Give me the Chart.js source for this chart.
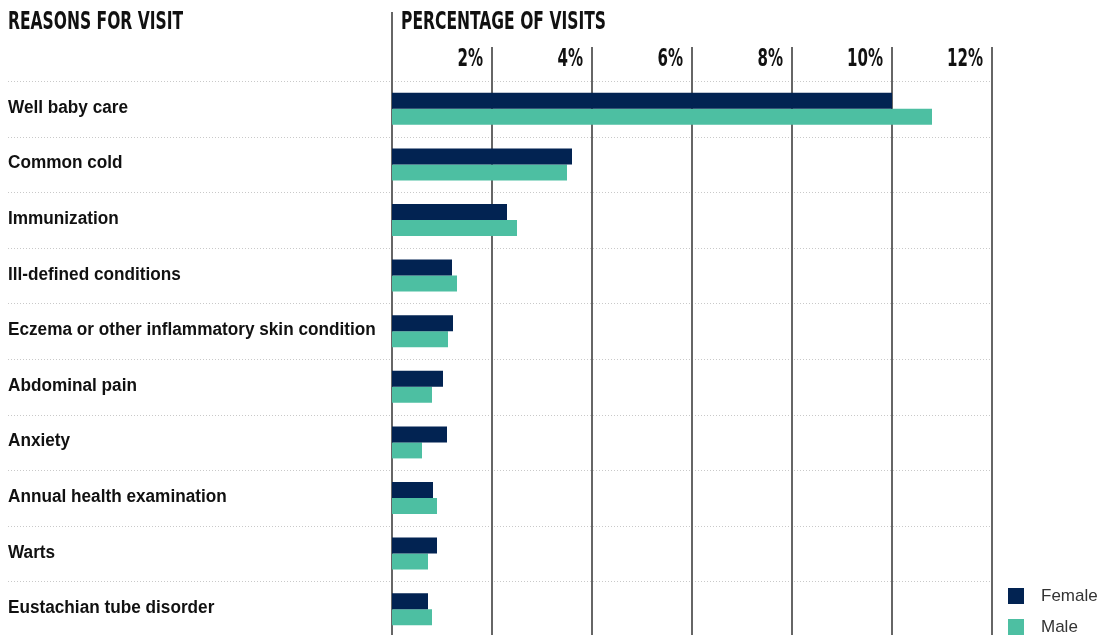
<!DOCTYPE html>
<html>
<head>
<meta charset="utf-8">
<script src="https://cdn.jsdelivr.net/npm/chart.js@4.4.1/dist/chart.umd.min.js"></script>
<style>
  html, body { margin: 0; padding: 0; background: #fff; overflow: hidden; }
  #wrap { width: 1104px; height: 637px; }
</style>
</head>
<body>
<div id="wrap"><canvas id="c" width="1104" height="637"></canvas></div>
<script>
const categories = [
  'Well baby care',
  'Common cold',
  'Immunization',
  'Ill-defined conditions',
  'Eczema or other inflammatory skin condition',
  'Abdominal pain',
  'Anxiety',
  'Annual health examination',
  'Warts',
  'Eustachian tube disorder'
];
const femaleValues = [10.0, 3.6, 2.3, 1.2, 1.22, 1.02, 1.1, 0.82, 0.9, 0.72];
const maleValues   = [10.8, 3.5, 2.5, 1.3, 1.12, 0.8, 0.6, 0.9, 0.72, 0.8];
const seriesNames = ['Female', 'Male'];
const tickValues = [0, 2, 4, 6, 8, 10, 12];
const tickLabels = ['', '2%', '4%', '6%', '8%', '10%', '12%'];
const leftTitle = 'REASONS FOR VISIT';
const rightTitle = 'PERCENTAGE OF VISITS';

const FEMALE_COLOR = '#022352';
const MALE_COLOR = '#4dbfa2';
const GRID_COLOR = '#666666';
const COND_FONT = 'bold 24px "DejaVu Sans Condensed", "DejaVu Sans", sans-serif';

function drawSqueezed(ctx, text, x, y, targetWidth, align) {
  const w = ctx.measureText(text).width;
  const s = targetWidth / w;
  ctx.save();
  ctx.translate(x, y);
  ctx.scale(s, 1);
  ctx.textAlign = align || 'left';
  ctx.fillText(text, 0, 0);
  ctx.restore();
}

const decorPlugin = {
  id: 'decor',
  beforeDatasetsDraw(chart) {
    const ctx = chart.ctx;
    const xs = chart.scales.x, ys = chart.scales.y;
    const H = chart.height;
    ctx.save();
    const band = ys.getPixelForValue(1) - ys.getPixelForValue(0);
    ctx.strokeStyle = '#c9c9c9';
    ctx.lineWidth = 1;
    ctx.setLineDash([1, 2]);
    categories.forEach((c, i) => {
      const y = Math.round(ys.getPixelForValue(i) - band / 2) + 0.5;
      ctx.beginPath();
      ctx.moveTo(8, y);
      ctx.lineTo(xs.getPixelForValue(12) + 2, y);
      ctx.stroke();
    });
    ctx.setLineDash([]);
    ctx.strokeStyle = GRID_COLOR;
    ctx.lineWidth = 2;
    xs.ticks.forEach((t, i) => {
      const x = Math.round(xs.getPixelForTick(i));
      ctx.beginPath();
      ctx.moveTo(x, t.value === 0 ? 12 : 47);
      ctx.lineTo(x, H);
      ctx.stroke();
    });
    ctx.restore();
  },
  afterDraw(chart) {
    const ctx = chart.ctx;
    const xs = chart.scales.x, ys = chart.scales.y;
    ctx.save();
    ctx.fillStyle = '#111';
    ctx.textBaseline = 'alphabetic';
    ctx.font = COND_FONT;
    drawSqueezed(ctx, leftTitle, 8, 29, 175);
    drawSqueezed(ctx, rightTitle, xs.getPixelForValue(0) + 9, 29, 205);
    // tick labels from the scale
    const ref = ctx.measureText('12%').width;
    const s = 36 / ref;
    xs.ticks.forEach((t, i) => {
      const lbl = tickLabels[i];
      if (!lbl) return;
      const x = xs.getPixelForTick(i) - 9;
      ctx.save();
      ctx.translate(x, 66);
      ctx.scale(s, 1);
      ctx.textAlign = 'right';
      ctx.fillText(lbl, 0, 0);
      ctx.restore();
    });
    // category labels
    ctx.font = 'bold 18px "Liberation Sans", Arial, sans-serif';
    ctx.textBaseline = 'middle';
    ctx.textAlign = 'left';
    categories.forEach((c, i) => {
      const y = ys.getPixelForValue(i) - 1;
      ctx.save();
      ctx.translate(8, y);
      ctx.scale(0.955, 1);
      ctx.fillText(c, 0, 0);
      ctx.restore();
    });
    // legend
    ctx.font = '17px "Liberation Sans", Arial, sans-serif';
    ctx.textBaseline = 'middle';
    chart.data.datasets.forEach((ds, i) => {
      const y = 596 + i * 31;
      ctx.fillStyle = ds.backgroundColor;
      ctx.fillRect(1008, y - 8, 16, 16);
      ctx.fillStyle = '#333';
      ctx.fillText(ds.label, 1041, y);
    });
    ctx.restore();
  }
};

new Chart(document.getElementById('c'), {
  type: 'bar',
  data: {
    labels: categories,
    datasets: [
      { label: seriesNames[0], data: femaleValues, backgroundColor: FEMALE_COLOR },
      { label: seriesNames[1], data: maleValues, backgroundColor: MALE_COLOR }
    ]
  },
  options: {
    indexAxis: 'y',
    responsive: false,
    animation: false,
    layout: { padding: { left: 392, right: 112, top: 0, bottom: 0 } },
    datasets: { bar: { categoryPercentage: 0.576, barPercentage: 1.0 } },
    plugins: { legend: { display: false }, tooltip: { enabled: false } },
    scales: {
      x: {
        position: 'top',
        min: 0, max: 12,
        afterBuildTicks(scale) { scale.ticks = tickValues.map(v => ({ value: v })); },
        afterFit(scale) { scale.height = 81; },
        grid: { display: false, drawTicks: false },
        border: { display: false },
        ticks: { display: false }
      },
      y: {
        display: false,
        grid: { display: false }
      }
    }
  },
  plugins: [decorPlugin]
});
</script>
</body>
</html>
